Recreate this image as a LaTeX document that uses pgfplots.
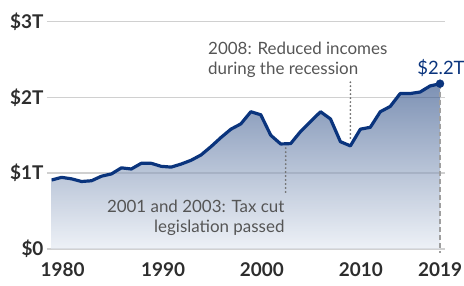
\documentclass[border=0pt]{standalone}
\usepackage{pgfplots}
\pgfplotsset{compat=1.18}
\usepackage{pgfplotstable}
\usepackage{fontspec}
\setmainfont{Lato}
\definecolor{navy}{RGB}{10,52,125}
\definecolor{tickc}{RGB}{45,45,45}
\definecolor{annc}{RGB}{85,85,85}
\definecolor{gridc}{RGB}{208,208,208}
\definecolor{filltop}{RGB}{38,72,130}
\definecolor{fillbot}{RGB}{226,232,241}

\pgfplotstableread{
year val
1980 0.91
1981 0.945
1982 0.925
1983 0.89
1984 0.90
1985 0.96
1986 0.99
1987 1.07
1988 1.055
1989 1.13
1990 1.13
1991 1.09
1992 1.08
1993 1.12
1994 1.17
1995 1.24
1996 1.35
1997 1.47
1998 1.58
1999 1.65
2000 1.81
2001 1.77
2002 1.50
2003 1.385
2004 1.39
2005 1.55
2006 1.68
2007 1.81
2008 1.715
2009 1.415
2010 1.36
2011 1.58
2012 1.605
2013 1.81
2014 1.88
2015 2.05
2016 2.05
2017 2.07
2018 2.15
2019 2.18
}\revtable

\begin{document}
\begin{tikzpicture}
\begin{axis}[name=ax, scale only axis, width=398bp, height=227.5bp,
  xmin=1979.53, xmax=2019.5, ymin=0, ymax=3,
  axis line style={draw=none}, major tick length=0pt,
  ytick={0,1,2,3}, yticklabels={\$0,\$1T,\$2T,\$3T},
  xtick={1981.1,1991.2,2001.1,2011.05,2019},
  xticklabels={1980,1990,2000,2010,2019},
  ymajorgrids, grid style={gridc, line width=1.5pt},
  tick label style={font=\fontsize{19}{21}\selectfont\bfseries, text=tickc},
  xticklabel style={yshift=-10pt},
  clip=false,
]
\addplot[draw=none, fill opacity=0.6, top color=filltop, bottom color=fillbot] table[x=year,y=val]{\revtable} \closedcycle;
\addplot[gray!75, line width=1.5pt, dash pattern=on 5pt off 3pt] coordinates {(2019,2.18) (2019,-0.05)};
\addplot[navy, line width=3.2pt, line join=round] table[x=year,y=val]{\revtable};
\addplot[navy, only marks, mark=*, mark size=4pt] coordinates {(2019,2.18)};
\draw[annc!85, line width=2pt, dash pattern=on 0pt off 4pt, line cap=round] (axis cs:2003.5,1.33) -- (axis cs:2003.5,0.75);
\draw[annc!85, line width=2pt, dash pattern=on 0pt off 4pt, line cap=round] (axis cs:2010,2.20) -- (axis cs:2010,1.46);
\begin{scope}[every node/.style={inner sep=0pt, font=\fontsize{17}{20}\selectfont, text=annc}]
\node[anchor=base east] at (axis cs:2003.4,0.479) {2001 and 2003: Tax cut};
\node[anchor=base east] at (axis cs:2003.4,0.211) {legislation passed};
\node[anchor=base west] at (axis cs:1995.7,2.56) {2008: Reduced incomes};
\node[anchor=base west] at (axis cs:1995.7,2.295) {during the recession};
\end{scope}
\node[anchor=base west, inner sep=0pt, font=\fontsize{18.5}{20}\selectfont, text=navy] at (axis cs:2016.7,2.295) {\$2.2T};
\end{axis}
\pgfresetboundingbox
\path[use as bounding box] ([xshift=-47bp,yshift=-37bp]ax.south west) rectangle ([xshift=19bp,yshift=21.5bp]ax.north east);
\end{tikzpicture}
\end{document}
